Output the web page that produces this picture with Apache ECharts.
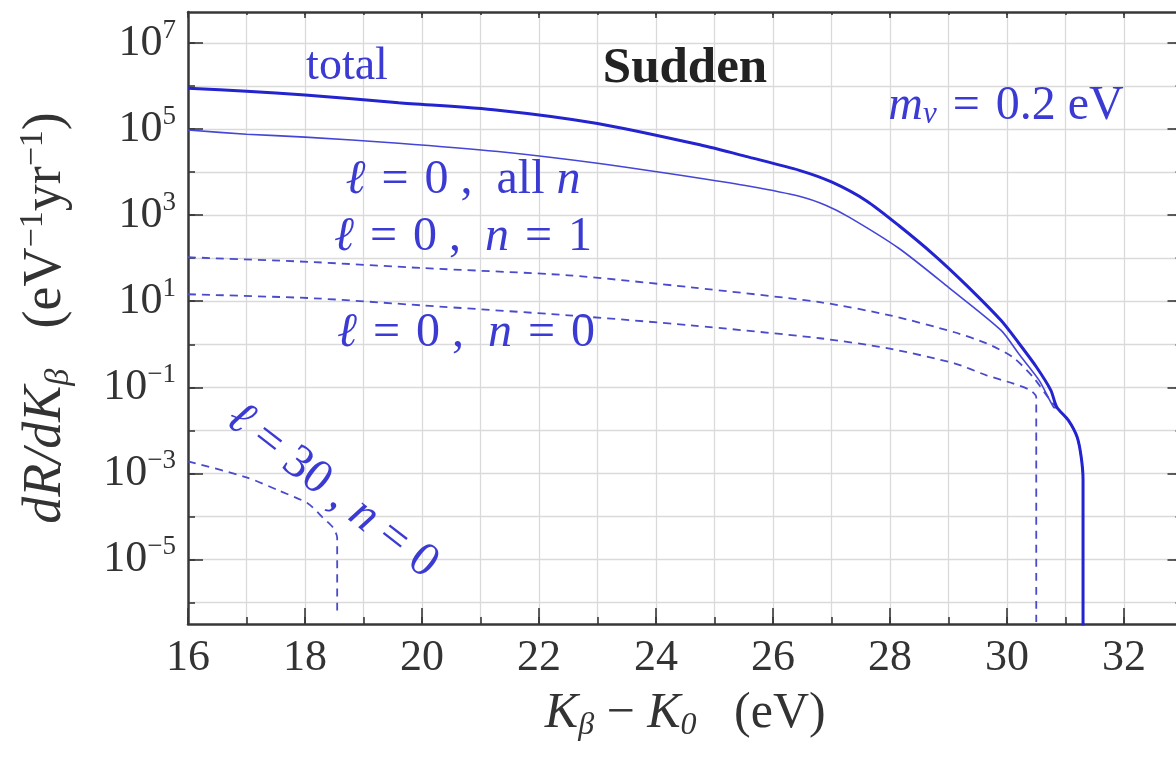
<!DOCTYPE html>
<html>
<head>
<meta charset="utf-8">
<script src="https://cdn.jsdelivr.net/npm/echarts@6/dist/echarts.min.js"></script>
<style>
  html, body { margin: 0; padding: 0; background: #ffffff; }
  #chart { width: 1176px; height: 759px; }
</style>
</head>
<body>
<div id="chart"></div>
<script>
// Differential rate dR/dK_beta (eV^-1 yr^-1) versus K_beta - K_0 (eV), sudden approximation, m_nu = 0.2 eV.

// x axis ticks (eV)
const xMajorTicks = [16, 18, 20, 22, 24, 26, 28, 30, 32];
const xMinorTicks = [16, 17, 18, 19, 20, 21, 22, 23, 24, 25, 26, 27, 28, 29, 30, 31, 32];
// y axis ticks, as powers of ten
const yMajorExp = [-5, -3, -1, 1, 3, 5, 7];
const yMinorExp = [-6, -5, -4, -3, -2, -1, 0, 1, 2, 3, 4, 5, 6, 7];

// total rate
const totalK = [16, 17, 18, 19.6, 21.3, 23.0, 24.75, 25.6, 26.45, 27.0, 27.6, 28.15, 28.75, 29.3, 29.9, 30.2, 30.5, 30.75, 30.85, 31.05, 31.2, 31.27, 31.3, 31.3];
const totalRate = [8.9e5, 7.6e5, 6.2e5, 4.1e5, 2.75e5, 1.35e5, 4.3e4, 2.2e4, 1.1e4, 5.9e3, 2.14e3, 575, 120, 24, 3.55, 1.07, 0.3, 0.085, 0.035, 0.017, 0.0069, 0.0023, 7e-4, 1e-8];

// l = 0, summed over n
const l0AllK = [16, 17, 18, 19.6, 21.3, 23.0, 24.75, 25.6, 26.45, 26.9, 27.3, 28.15, 29.0, 29.9, 30.2, 30.55, 30.8, 30.85, 31.05, 31.2, 31.27, 31.3, 31.3];
const l0AllRate = [9.5e4, 7.6e4, 6.5e4, 4.7e4, 3.0e4, 1.6e4, 7.2e3, 4.7e3, 2.75e3, 1.7e3, 900, 170, 21, 2.1, 0.6, 0.145, 0.034, 0.033, 0.017, 0.0069, 0.0023, 7e-4, 1e-8];

// l = 0, n = 1
const l0n1K = [16, 18.15, 20, 22.5, 24.6, 26.8, 28.0, 29.1, 29.65, 30.1, 30.45, 30.7, 30.85, 31.05, 31.2, 31.27, 31.3, 31.3];
const l0n1Rate = [105, 81, 59, 40, 21, 9.5, 4.7, 1.9, 1.05, 0.5, 0.17, 0.059, 0.033, 0.017, 0.0069, 0.0023, 7e-4, 1e-8];

// l = 0, n = 0
const l0n0K = [16, 18.15, 20, 22.5, 24.6, 26.8, 27.95, 29.1, 29.65, 30.1, 30.4, 30.5, 30.5];
const l0n0Rate = [14.5, 11.7, 8.0, 4.7, 2.75, 1.38, 0.81, 0.36, 0.19, 0.123, 0.085, 0.059, 3.5e-7];

// l = 30, n = 0
const l30n0K = [16, 17.0, 17.55, 18.05, 18.3, 18.48, 18.55, 18.55];
const l30n0Rate = [1.9e-3, 8.1e-4, 4.0e-4, 2.0e-4, 9.5e-5, 5.5e-5, 3.2e-5, 5e-7];

const SERIF = 'Liberation Serif';
const AXIS_COLOR = '#383838';
const GRID_COLOR = '#dadada';
const LABEL_COLOR = '#333333';
const TEXT_BLUE = '#3b3bd3';

// the rate axis is logarithmic: points are placed at log10 of the rate
function toPoints(ks, rates) {
  return ks.map((k, i) => [k, Math.log10(rates[i])]);
}

function expText(e) {
  return e < 0 ? '\u2212' + (-e) : String(e);
}

const yRange = { min: -6.5, max: 7.72 };
const xRange = { min: 16, max: 33 };

function xAxisPart(position, ticks, len, withLine, withGrid) {
  return {
    type: 'value', position: position, min: xRange.min, max: xRange.max,
    axisLine: { show: withLine, onZero: false, lineStyle: { color: AXIS_COLOR, width: 2.5 } },
    axisTick: { show: true, inside: true, length: len, customValues: ticks, lineStyle: { color: AXIS_COLOR, width: 1.6 } },
    axisLabel: { show: false },
    splitLine: { show: withGrid, lineStyle: { color: GRID_COLOR, width: 1.3 } }
  };
}

function yAxisPart(position, ticks, len, withLine, withGrid) {
  return {
    type: 'value', position: position, min: yRange.min, max: yRange.max,
    axisLine: { show: withLine, onZero: false, lineStyle: { color: AXIS_COLOR, width: 2.5 } },
    axisTick: { show: true, inside: true, length: len, customValues: ticks, lineStyle: { color: AXIS_COLOR, width: 1.6 } },
    axisLabel: { show: false },
    splitLine: { show: withGrid, lineStyle: { color: GRID_COLOR, width: 1.3 } }
  };
}

const xBottom = xAxisPart('bottom', xMajorTicks, 16, true, false);
xBottom.axisLabel = {
  show: true, customValues: xMajorTicks, margin: 12,
  fontFamily: SERIF, fontSize: 44, color: LABEL_COLOR
};
xBottom.name = '{k|K}{sb|\u03b2}{r| \u2212 }{k|K}{sb|0}{r|   (eV)}';
xBottom.nameLocation = 'middle';
xBottom.nameGap = 62;
xBottom.nameTextStyle = {
  color: LABEL_COLOR, fontFamily: SERIF,
  rich: {
    k: { fontFamily: SERIF, fontStyle: 'italic', fontSize: 50, color: LABEL_COLOR, lineHeight: 56 },
    sb: { fontFamily: SERIF, fontStyle: 'italic', fontSize: 32, color: LABEL_COLOR, verticalAlign: 'bottom', lineHeight: 36 },
    r: { fontFamily: SERIF, fontSize: 50, color: LABEL_COLOR, lineHeight: 56 }
  }
};

const yLeft = yAxisPart('left', yMajorExp, 15, true, false);
yLeft.axisLabel = {
  show: true, customValues: yMajorExp, margin: 12, fontFamily: SERIF,
  formatter: v => '{b|10}{s|' + expText(Math.round(v)) + '}',
  rich: {
    b: { fontFamily: SERIF, fontSize: 44, color: LABEL_COLOR, lineHeight: 52 },
    s: { fontFamily: SERIF, fontSize: 27, color: LABEL_COLOR, verticalAlign: 'top', lineHeight: 30 }
  }
};
yLeft.name = '{i|dR/dK}{sb|\u03b2}{r|   (eV}{sp|\u22121}{r|yr}{sp|\u22121}{r|)}';
yLeft.nameLocation = 'middle';
yLeft.nameRotate = 90;
yLeft.nameGap = 112;
yLeft.nameTextStyle = {
  color: LABEL_COLOR, fontFamily: SERIF,
  rich: {
    i: { fontFamily: SERIF, fontStyle: 'italic', fontSize: 54, color: LABEL_COLOR, lineHeight: 60 },
    sb: { fontFamily: SERIF, fontStyle: 'italic', fontSize: 34, color: LABEL_COLOR, verticalAlign: 'bottom', lineHeight: 40 },
    r: { fontFamily: SERIF, fontSize: 54, color: LABEL_COLOR, lineHeight: 60 },
    sp: { fontFamily: SERIF, fontSize: 34, color: LABEL_COLOR, verticalAlign: 'top', lineHeight: 36 }
  }
};

function curve(name, ks, rates, style, z) {
  return {
    name: name, type: 'line', xAxisIndex: 0, yAxisIndex: 0,
    data: toPoints(ks, rates), showSymbol: false, symbol: 'none',
    smooth: 0.25, clip: true, z: z, lineStyle: style, silent: true
  };
}

function txt(x, y, text, rich, extra) {
  return Object.assign({
    type: 'text', x: x, y: y, silent: true, z: 100,
    style: { text: text, rich: rich, align: 'center', verticalAlign: 'middle', fill: TEXT_BLUE,
             fontFamily: SERIF, fontSize: 46 }
  }, extra || {});
}

const mathRich = {
  i: { fontFamily: SERIF, fontStyle: 'italic', fontSize: 48, fill: TEXT_BLUE },
  r: { fontFamily: SERIF, fontSize: 48, fill: TEXT_BLUE },
  sb: { fontFamily: SERIF, fontStyle: 'italic', fontSize: 31, fill: TEXT_BLUE, verticalAlign: 'bottom', lineHeight: 30 }
};

// relation sign with slightly wider math spacing
const EQ = ' \u200a=\u200a ';

const titleText = {
  type: 'text', x: 685, y: 69, silent: true, z: 100,
  style: { text: 'Sudden', align: 'center', verticalAlign: 'middle', fill: '#222222',
           fontFamily: SERIF, fontWeight: 'bold', fontSize: 51 }
};

const chart = echarts.init(document.getElementById('chart'), null, { renderer: 'canvas' });
chart.setOption({
  animation: false,
  backgroundColor: '#ffffff',
  textStyle: { fontFamily: SERIF },
  grid: { left: 188, top: 12, width: 994.5, height: 612, containLabel: false, outerBoundsMode: 'none' },
  xAxis: [
    xBottom,
    xAxisPart('bottom', xMinorTicks, 7, false, true),
    xAxisPart('top', xMajorTicks, 6, true, false),
    xAxisPart('top', xMinorTicks, 3, false, false)
  ],
  yAxis: [
    yLeft,
    yAxisPart('left', yMinorExp, 7, false, true),
    yAxisPart('right', yMajorExp, 15, true, false),
    yAxisPart('right', yMinorExp, 7, false, false)
  ],
  series: [
    curve('l=30, n=0', l30n0K, l30n0Rate, { color: '#4a4acc', width: 1.8, type: [8, 6] }, 3),
    curve('l=0, n=0', l0n0K, l0n0Rate, { color: '#4a4acc', width: 1.8, type: [8, 6] }, 3),
    curve('l=0, n=1', l0n1K, l0n1Rate, { color: '#4a4acc', width: 1.8, type: [8, 6] }, 3),
    curve('l=0, all n', l0AllK, l0AllRate, { color: '#4545d8', width: 1.6, type: 'solid' }, 4),
    curve('total', totalK, totalRate, { color: '#2323cf', width: 3, type: 'solid' }, 5)
  ],
  graphic: [
    txt(347, 67, 'total'),
    titleText,
    txt(1006, 106, '{i|m}{sb|\u03bd}{r|' + EQ + '0.2 eV}', mathRich),
    txt(463, 180, '{i|\u2113}{r|' + EQ + '0 ,  all }{i|n}', mathRich),
    txt(463, 237, '{i|\u2113}{r|' + EQ + '0 ,  }{i|n}{r|' + EQ + '1}', mathRich),
    txt(466, 333, '{i|\u2113}{r|' + EQ + '0 ,  }{i|n}{r|' + EQ + '0}', mathRich),
    txt(332, 491, '{i|\u2113}{r| = 30 , }{i|n}{r| = 0}', mathRich, { rotation: -0.66 })
  ]
});
</script>
</body>
</html>
